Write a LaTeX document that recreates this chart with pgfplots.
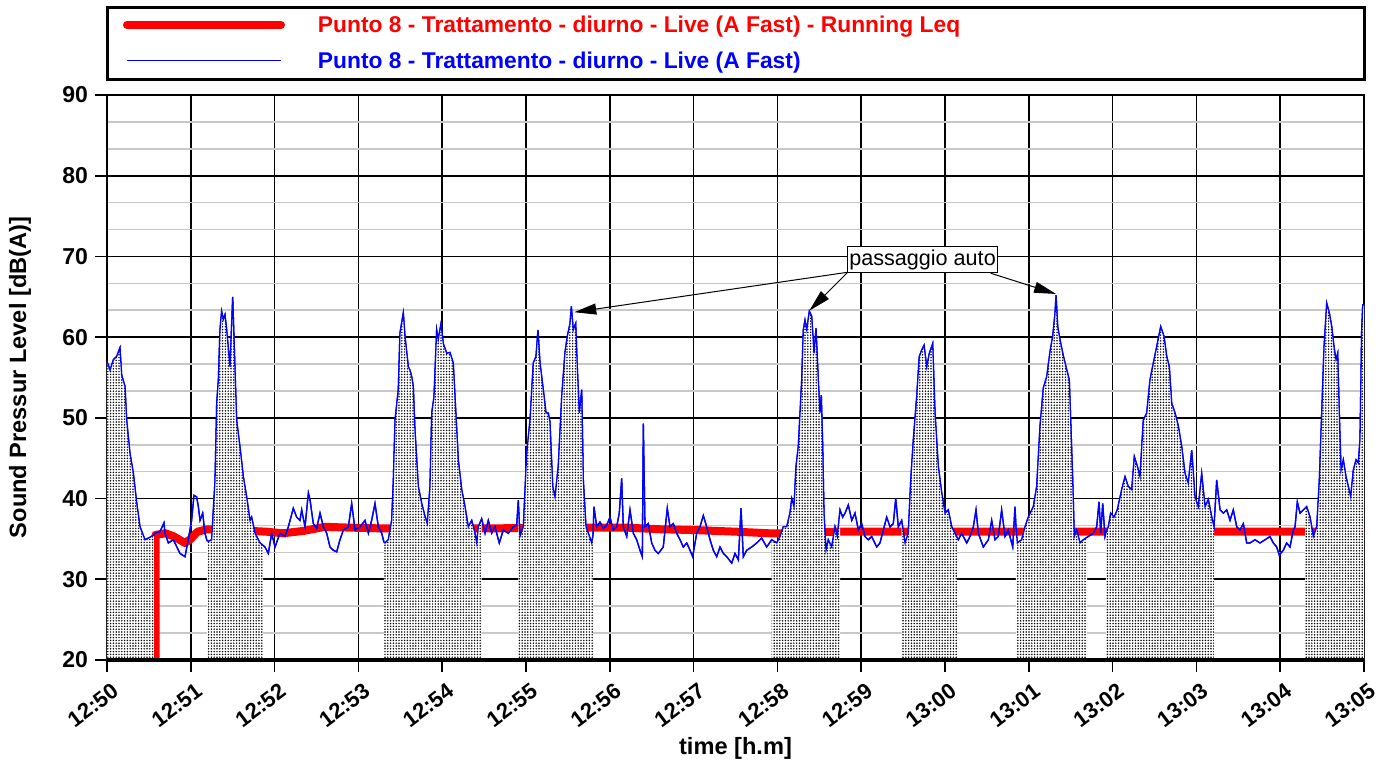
\documentclass[border=0pt]{standalone}
\usepackage{fontspec}
\setmainfont{Liberation Sans}
\usepackage{pgfplots}
\pgfplotsset{compat=1.18}
\usepackage{pgfplotstable}
\usetikzlibrary{patterns,arrows.meta}
\definecolor{leqred}{RGB}{255,0,0}
\definecolor{liveblue}{RGB}{0,0,255}
\definecolor{minorgray}{RGB}{200,200,200}
\pgfdeclarepatternformonly{stipple}{\pgfqpoint{-0.2pt}{-0.2pt}}{\pgfqpoint{1.6pt}{1.6pt}}{\pgfqpoint{1.4pt}{1.4pt}}{%
  \pgfpathcircle{\pgfqpoint{0.7pt}{0.7pt}}{0.42pt}\pgfusepath{fill}}

\pgfplotstableread{
t L
0.000 57.0
0.036 55.9
0.076 57.2
0.115 57.6
0.155 58.7
0.175 55.3
0.215 53.9
0.235 49.7
0.274 45.6
0.314 43.2
0.354 39.5
0.394 36.5
0.453 34.9
0.513 35.2
0.560 35.5
0.573 35.7
0.632 35.9
0.680 37.0
0.692 35.7
0.732 34.5
0.792 34.9
0.871 33.2
0.931 32.8
0.971 35.0
1.010 37.3
1.038 40.4
1.070 40.2
1.090 39.0
1.110 37.3
1.142 38.2
1.169 35.7
1.193 34.8
1.209 34.7
1.249 34.9
1.289 42.3
1.309 51.8
1.329 54.7
1.348 60.9
1.368 63.2
1.388 62.2
1.408 62.8
1.428 60.9
1.468 56.3
1.500 65.0
1.519 58.8
1.547 49.7
1.587 46.4
1.627 42.7
1.667 40.2
1.706 37.3
1.726 37.7
1.766 35.7
1.826 34.5
1.862 34.2
1.885 34.0
1.925 33.2
1.965 35.7
2.005 34.0
2.064 35.7
2.124 35.3
2.164 36.5
2.223 38.8
2.263 37.7
2.303 37.3
2.323 38.6
2.363 36.5
2.403 40.7
2.422 39.9
2.462 36.9
2.502 36.3
2.542 38.2
2.582 36.5
2.622 35.7
2.661 34.0
2.701 33.6
2.741 33.4
2.780 34.9
2.820 36.1
2.880 36.5
2.920 39.4
2.960 36.1
3.019 36.5
3.079 37.3
3.119 35.7
3.158 37.3
3.198 39.4
3.238 36.5
3.278 35.7
3.305 34.6
3.317 34.5
3.357 34.9
3.397 37.3
3.417 42.3
3.437 49.7
3.476 53.5
3.496 60.5
3.536 63.0
3.556 60.1
3.596 56.3
3.616 55.9
3.636 55.1
3.655 53.9
3.675 48.5
3.715 41.5
3.755 39.4
3.795 37.8
3.822 36.9
3.854 41.5
3.875 50.6
3.902 52.6
3.934 60.9
3.953 59.7
3.986 61.7
4.013 59.2
4.054 58.0
4.093 58.1
4.132 56.8
4.153 52.6
4.192 44.8
4.233 41.1
4.272 39.0
4.311 36.5
4.352 37.3
4.391 35.7
4.412 34.5
4.431 36.5
4.471 37.5
4.511 35.7
4.550 37.3
4.591 35.7
4.630 36.5
4.681 34.5
4.729 36.1
4.789 35.7
4.848 36.5
4.889 36.7
4.908 39.8
4.928 35.3
4.968 36.5
5.008 45.6
5.048 49.7
5.087 56.8
5.119 57.6
5.143 60.9
5.167 56.8
5.206 53.5
5.239 50.6
5.266 50.6
5.286 49.5
5.319 41.5
5.346 40.2
5.385 44.0
5.426 52.6
5.465 58.1
5.493 60.1
5.525 61.7
5.541 63.8
5.564 60.9
5.593 61.7
5.612 56.3
5.636 50.6
5.665 53.5
5.684 42.3
5.716 36.5
5.744 35.7
5.784 34.5
5.800 35.5
5.811 39.0
5.844 36.5
5.883 37.1
5.923 36.3
5.963 36.7
6.002 37.7
6.042 36.1
6.082 36.5
6.113 38.2
6.142 42.5
6.161 36.5
6.202 35.3
6.241 38.6
6.281 35.7
6.321 34.9
6.360 33.6
6.388 32.8
6.400 49.3
6.420 36.5
6.459 36.9
6.500 34.5
6.539 33.6
6.579 33.2
6.638 34.0
6.686 38.8
6.718 36.5
6.758 36.9
6.798 35.7
6.838 34.9
6.877 34.0
6.918 34.5
6.957 33.6
6.989 32.8
7.037 35.7
7.076 36.5
7.116 37.9
7.156 36.5
7.196 34.9
7.235 33.6
7.276 32.8
7.315 34.0
7.355 33.2
7.395 32.8
7.455 32.0
7.494 33.2
7.534 32.4
7.566 38.8
7.593 32.8
7.634 33.6
7.693 34.0
7.753 34.5
7.813 35.1
7.872 34.0
7.932 34.9
7.992 34.5
8.031 35.3
8.070 36.5
8.111 36.5
8.150 38.2
8.171 40.0
8.198 39.0
8.222 44.0
8.249 46.4
8.270 50.6
8.290 54.7
8.309 60.9
8.329 62.1
8.350 60.9
8.381 63.2
8.409 62.6
8.437 58.0
8.461 61.1
8.488 54.7
8.508 50.6
8.524 52.8
8.541 46.4
8.556 38.2
8.580 33.6
8.607 34.9
8.648 34.0
8.687 36.5
8.715 35.3
8.747 38.6
8.779 37.7
8.807 38.2
8.846 39.2
8.887 37.3
8.926 38.2
8.966 36.1
9.006 36.9
9.045 35.3
9.085 34.9
9.125 35.3
9.185 34.0
9.224 34.5
9.264 36.1
9.304 37.7
9.344 36.5
9.383 36.9
9.412 40.0
9.443 36.5
9.483 37.3
9.523 34.5
9.562 35.7
9.591 42.3
9.622 47.3
9.662 52.6
9.693 57.6
9.722 58.4
9.750 59.0
9.782 56.3
9.813 58.0
9.853 59.2
9.881 50.6
9.920 44.0
9.961 40.7
10.000 38.2
10.039 38.6
10.080 36.5
10.119 35.7
10.143 35.2
10.159 34.9
10.199 35.7
10.259 34.5
10.298 35.3
10.338 36.5
10.370 38.6
10.398 35.7
10.457 34.0
10.517 34.9
10.557 37.3
10.597 34.9
10.636 35.3
10.676 38.6
10.716 35.3
10.755 36.1
10.808 34.0
10.835 39.0
10.847 36.5
10.863 34.5
10.915 34.9
10.955 36.5
10.994 37.7
11.054 39.0
11.094 41.5
11.134 49.0
11.173 53.7
11.214 55.1
11.253 58.2
11.285 60.1
11.313 63.0
11.325 65.2
11.345 61.3
11.372 59.7
11.405 58.0
11.444 56.3
11.483 54.7
11.500 49.7
11.524 42.3
11.543 35.3
11.572 36.1
11.611 34.5
11.651 34.9
11.695 35.2
11.710 35.3
11.770 35.7
11.810 36.5
11.838 39.6
11.858 35.7
11.882 39.4
11.909 35.3
11.921 35.8
11.949 36.5
11.977 38.2
12.017 37.7
12.056 38.6
12.108 41.1
12.148 42.7
12.187 41.5
12.228 41.1
12.259 45.2
12.295 44.0
12.327 42.7
12.366 49.7
12.407 50.6
12.446 54.7
12.486 56.8
12.526 58.8
12.574 61.3
12.613 60.1
12.646 57.6
12.677 56.3
12.705 51.8
12.745 50.6
12.784 49.0
12.825 46.4
12.864 43.1
12.903 41.9
12.944 46.0
12.983 40.2
13.023 39.0
13.063 43.1
13.103 39.0
13.142 39.9
13.183 37.7
13.210 36.5
13.242 42.3
13.282 38.6
13.321 38.2
13.362 38.6
13.401 37.3
13.440 38.6
13.481 36.5
13.520 36.1
13.560 36.9
13.600 34.5
13.640 34.5
13.699 34.9
13.759 34.5
13.819 34.9
13.878 35.3
13.918 34.5
13.958 34.0
13.989 33.0
14.037 33.6
14.077 34.5
14.117 34.0
14.156 36.1
14.177 36.5
14.204 39.6
14.236 38.2
14.276 38.6
14.296 38.8
14.316 39.0
14.356 37.7
14.395 35.3
14.436 36.5
14.467 42.3
14.495 50.6
14.523 58.8
14.555 64.2
14.586 63.0
14.615 61.3
14.642 58.8
14.666 57.2
14.686 58.0
14.705 50.6
14.726 43.5
14.753 44.8
14.785 42.7
14.813 41.5
14.841 40.2
14.872 43.5
14.905 44.8
14.932 44.4
14.952 47.3
14.972 60.9
14.985 64.0
15.000 64.0
}\livedata

\pgfplotstableread{
t L
0.579 20.0
0.579 35.5
0.700 35.7
0.800 35.3
0.930 34.5
1.000 35.0
1.080 35.9
1.200 36.2
1.500 36.1
1.900 35.9
2.100 35.7
2.350 36.0
2.600 36.5
2.900 36.4
3.300 36.3
4.500 36.3
5.500 36.4
6.200 36.4
6.600 36.2
7.000 36.1
7.500 35.9
7.900 35.7
8.100 35.7
8.700 35.9
9.500 35.9
10.500 35.9
11.500 35.9
12.500 35.9
13.500 35.9
14.300 35.9
15.000 35.9
}\leqdata

\begin{document}
\begin{tikzpicture}
\begin{axis}[
  scale only axis, width=628.5pt, height=282.5pt,
  xmin=0, xmax=15, ymin=20, ymax=90,
  xtick={0,...,15},
  xticklabels={12:50,12:51,12:52,12:53,12:54,12:55,12:56,12:57,12:58,12:59,13:00,13:01,13:02,13:03,13:04,13:05},
  ytick={20,30,...,90},
  minor y tick num=2,
  xtick pos=bottom, ytick pos=left,
  tick align=outside,
  major tick length=6pt, minor tick length=0pt,
  grid=both,
  major grid style={black, line width=0.8pt},
  minor grid style={minorgray, line width=0.8pt},
  axis line style={line width=1.2pt},
  major tick style={black, line width=0.8pt},
  /pgf/number format/assume math mode=true,
  yticklabel style={font=\bfseries\fontsize{11.5}{13}\selectfont},
  xticklabel style={font=\bfseries\fontsize{11}{13}\selectfont, xshift=7pt, yshift=-6pt, rotate=37, anchor=east},
  xlabel={time [h.m]}, ylabel={Sound Pressur Level [dB(A)]},
  every axis x label/.style={at={(axis description cs:0.5,-0.1558)}, anchor=center, font=\bfseries\fontsize{11.8}{14}\selectfont},
  every axis y label/.style={at={(axis description cs:-0.0692,0.5)}, anchor=center, rotate=90, font=\bfseries\fontsize{11.8}{14}\selectfont},
  legend style={at={(axis description cs:0,1)}, anchor=north west, xshift=8pt, yshift=39.5pt,
    draw=none, fill=none, inner sep=0pt, outer sep=0pt, row sep=8pt, column sep=16.5pt,
    font=\bfseries\fontsize{11.4}{13}\selectfont, nodes={inner sep=0pt}},
  legend cell align=left,
  legend image code/.code={\draw[#1] (0pt,0.5pt) -- (77pt,0.5pt);},
]
\addplot[leqred, line width=4pt, line cap=round, line join=round] table[x=t, y=L] {\leqdata};
\addlegendentry{\textcolor{leqred}{Punto 8 - Trattamento - diurno - Live (A Fast) - Running Leq}}
\addplot[liveblue, line width=0.65pt] table[x=t, y=L] {\livedata};
\addlegendentry{\textcolor{liveblue}{Punto 8 - Trattamento - diurno - Live (A Fast)}}

\addplot[draw=none, preaction={fill=white}, pattern=stipple, forget plot, restrict x to domain=0:0.565] table[x=t, y=L] {\livedata} \closedcycle;
\addplot[draw=none, preaction={fill=white}, pattern=stipple, forget plot, restrict x to domain=1.19:1.865] table[x=t, y=L] {\livedata} \closedcycle;
\addplot[draw=none, preaction={fill=white}, pattern=stipple, forget plot, restrict x to domain=3.30:4.48] table[x=t, y=L] {\livedata} \closedcycle;
\addplot[draw=none, preaction={fill=white}, pattern=stipple, forget plot, restrict x to domain=4.905:5.805] table[x=t, y=L] {\livedata} \closedcycle;
\addplot[draw=none, preaction={fill=white}, pattern=stipple, forget plot, restrict x to domain=7.93:8.75] table[x=t, y=L] {\livedata} \closedcycle;
\addplot[draw=none, preaction={fill=white}, pattern=stipple, forget plot, restrict x to domain=9.48:10.145] table[x=t, y=L] {\livedata} \closedcycle;
\addplot[draw=none, preaction={fill=white}, pattern=stipple, forget plot, restrict x to domain=10.84:11.70] table[x=t, y=L] {\livedata} \closedcycle;
\addplot[draw=none, preaction={fill=white}, pattern=stipple, forget plot, restrict x to domain=11.915:13.215] table[x=t, y=L] {\livedata} \closedcycle;
\addplot[draw=none, preaction={fill=white}, pattern=stipple, forget plot, restrict x to domain=14.29:15] table[x=t, y=L] {\livedata} \closedcycle;

\addplot[liveblue, line width=0.65pt, forget plot] table[x=t, y=L] {\livedata};

\draw[line width=0.5pt, -{Triangle[length=11pt,width=5.5pt]}] (axis cs:8.839,68.04) -- (axis cs:5.576,63.09);
\draw[line width=0.5pt, -{Triangle[length=11pt,width=5.5pt]}] (axis cs:8.839,68.04) -- (axis cs:8.381,63.28);
\draw[line width=0.5pt, -{Triangle[length=11pt,width=5.5pt]}] (axis cs:10.545,67.92) -- (axis cs:11.325,65.35);
\node[draw, fill=white, line width=0.5pt, inner xsep=1pt, inner ysep=1.5pt, font=\fontsize{10.8}{12}\selectfont] at (axis cs:9.732,69.57) {passaggio auto};
\end{axis}
\draw[line width=1.5pt] (0,290pt) rectangle (628.5pt,326pt);
\draw[line width=2pt] (0,0) -- (628.5pt,0);
\pgfresetboundingbox
\path[use as bounding box] (-53.5pt,-52.5pt) rectangle (644pt,330pt);
\end{tikzpicture}
\end{document}
